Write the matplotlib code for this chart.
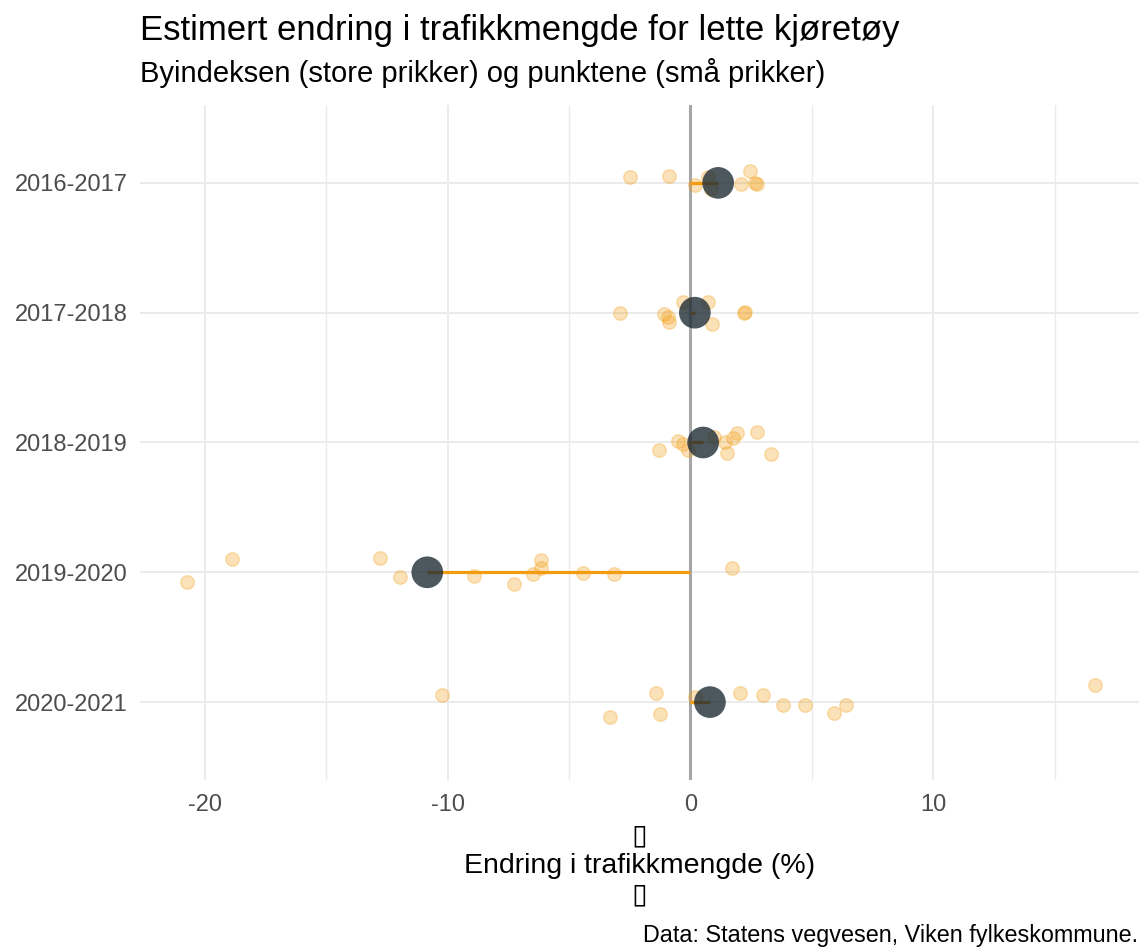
import matplotlib
matplotlib.use("Agg")
import matplotlib.pyplot as plt
from matplotlib.ticker import MultipleLocator

plt.rcParams["font.family"] = ["Liberation Sans", "DejaVu Sans"]
plt.rcParams["axes.unicode_minus"] = False

# Data
periods = ["2016-2017", "2017-2018", "2018-2019", "2019-2020", "2020-2021"]
index_change = [1.14, 0.18, 0.52, -10.84, 0.80]

# point values per period, and vertical jitter (fraction of row spacing, + is up)
points_1617 = [-2.50, -0.89, 0.18, 0.73, 0.85, 2.10, 2.44, 2.65, 2.74]
jitter_1617 = [0.044, 0.056, -0.02, 0.045, -0.05, -0.008, 0.095, 0.0, -0.005]
points_1718 = [-2.91, -1.10, -0.92, -0.89, -0.30, 0.73, 0.89, 2.21, 2.23]
jitter_1718 = [0.0, -0.008, -0.033, -0.072, 0.082, 0.082, -0.085, 0.0, 0.005]
points_1819 = [-1.29, -0.51, -0.30, -0.12, 0.97, 1.44, 1.52, 1.76, 1.93, 2.72, 3.33]
jitter_1819 = [-0.059, 0.01, -0.008, -0.054, 0.044, 0.005, -0.079, 0.031, 0.075, 0.082, -0.092]
points_1920 = [-20.72, -18.87, -12.79, -11.97, -8.92, -7.28, -6.48, -6.15, -6.15, -4.43, -3.13, 1.70]
jitter_1920 = [-0.074, 0.10, 0.108, -0.038, -0.032, -0.088, -0.015, 0.092, 0.035, -0.008, -0.015, 0.035]
points_2021 = [-10.25, -3.33, -1.41, -1.26, 0.20, 2.03, 2.98, 3.83, 4.70, 5.91, 6.40, 16.64]
jitter_2021 = [0.053, -0.115, 0.067, -0.092, 0.04, 0.069, 0.054, -0.022, -0.022, -0.082, -0.022, 0.131]

point_values = [points_1617, points_1718, points_1819, points_1920, points_2021]
point_jitter = [jitter_1617, jitter_1718, jitter_1819, jitter_1920, jitter_2021]

orange = "#f39c12"
dark = "#1f2d36"

W, H = 1141, 949
fig = plt.figure(figsize=(W / 100, H / 100), dpi=100)
ax = fig.add_axes([140 / W, 1 - 780 / H, (1139 - 140) / W, (780 - 105) / H])

ax.set_xlim(-22.67, 18.47)
ax.set_ylim(len(periods) - 1 + 0.6, -0.6)

# gridlines
ax.xaxis.set_major_locator(MultipleLocator(10))
ax.xaxis.set_minor_locator(MultipleLocator(5))
ax.set_yticks(range(len(periods)))
ax.set_yticklabels(periods)
ax.grid(which="major", color="#ebebeb", lw=1.4, zorder=0)
ax.grid(which="minor", axis="x", color="#ebebeb", lw=1.0, zorder=0)
ax.set_axisbelow(True)
for s in ax.spines.values():
    s.set_visible(False)
ax.tick_params(which="both", length=0, labelsize=17, labelcolor="#4d4d4d")
ax.tick_params(axis="y", pad=9)
ax.tick_params(axis="x", pad=10)

# zero line
ax.axvline(0, color="#a6a6a6", lw=2.2, zorder=1)

for i, (vals, jit) in enumerate(zip(point_values, point_jitter)):
    ys = [i - j for j in jit]
    ax.scatter(vals, ys, s=95, color=orange, alpha=0.3, edgecolors=orange,
               linewidths=1.0, zorder=3)

for i, v in enumerate(index_change):
    ax.plot([0, v], [i, i], color=orange, lw=2.3, solid_capstyle="butt", zorder=2)
ax.scatter(index_change, range(len(periods)), s=520, color=dark, alpha=0.8,
           edgecolors="none", zorder=4)

# x axis title (with the empty-glyph lines above and below)
fig.text(639.5 / W, 1 - 866 / H, "\u25af\nEndring i trafikkmengde (%)\n\u25af",
         fontsize=20.5, linespacing=1.17, ha="center", va="center")

fig.text(140 / W, 1 - 40 / H, "Estimert endring i trafikkmengde for lette kjøretøy",
         fontsize=25, va="baseline", ha="left")
fig.text(140 / W, 1 - 82 / H, "Byindeksen (store prikker) og punktene (små prikker)",
         fontsize=21, va="baseline", ha="left")
fig.text(1138 / W, 1 - 942 / H, "Data: Statens vegvesen, Viken fylkeskommune.",
         fontsize=16.8, va="baseline", ha="right")

fig.savefig("out.png", dpi=100)
